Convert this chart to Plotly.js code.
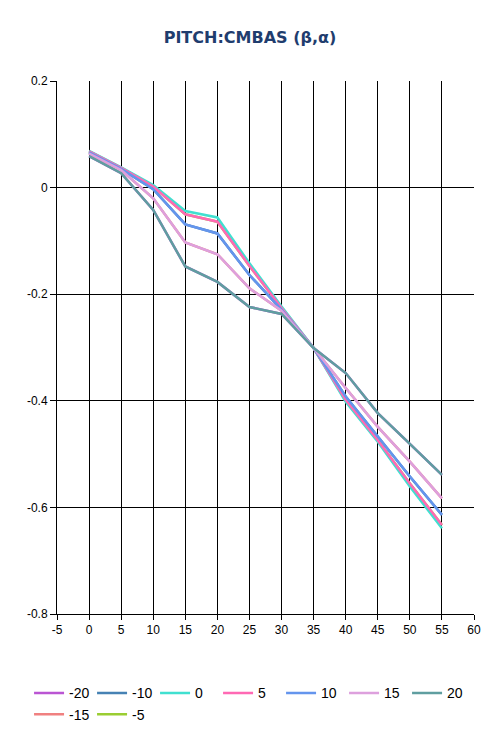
<!DOCTYPE html>
<html>
<head>
<meta charset="utf-8">
<script src="https://cdn.plot.ly/plotly-3.0.1.min.js"></script>
<style>html,body{margin:0;padding:0;background:#fff;}#chart{width:500px;height:750px;}</style>
</head>
<body>
<div id="chart"></div>
<script>
// Angle of attack alpha (deg)
const alpha = [0, 5, 10, 15, 20, 25, 30, 35, 40, 45, 50, 55];

// Sideslip beta series (names)
const betaNames = ["-20", "-15", "-10", "-5", "0", "5", "10", "15", "20"];

// CMBAS values per beta
const cm_m20 = [0.059, 0.027, -0.042, -0.148, -0.177, -0.224, -0.237, -0.301, -0.348, -0.423, -0.481, -0.539];
const cm_m15 = [0.064, 0.033, -0.020, -0.103, -0.125, -0.189, -0.231, -0.301, -0.376, -0.449, -0.514, -0.583];
const cm_m10 = [0.066, 0.035, -0.003, -0.069, -0.086, -0.164, -0.229, -0.301, -0.392, -0.467, -0.542, -0.614];
const cm_m5  = [0.068, 0.037, 0.002, -0.050, -0.064, -0.147, -0.226, -0.301, -0.398, -0.474, -0.555, -0.633];
const cm_0   = [0.069, 0.038, 0.005, -0.044, -0.056, -0.142, -0.223, -0.301, -0.402, -0.477, -0.561, -0.639];
const cm_p5  = [0.068, 0.037, 0.002, -0.050, -0.064, -0.147, -0.226, -0.301, -0.398, -0.474, -0.555, -0.633];
const cm_p10 = [0.066, 0.035, -0.003, -0.069, -0.086, -0.164, -0.229, -0.301, -0.392, -0.467, -0.542, -0.614];
const cm_p15 = [0.064, 0.033, -0.020, -0.103, -0.125, -0.189, -0.231, -0.301, -0.376, -0.449, -0.514, -0.583];
const cm_p20 = [0.059, 0.027, -0.042, -0.148, -0.177, -0.224, -0.237, -0.301, -0.348, -0.423, -0.481, -0.539];

const seriesValues = [cm_m20, cm_m15, cm_m10, cm_m5, cm_0, cm_p5, cm_p10, cm_p15, cm_p20];
const colors = ["#BA55D3", "#F08080", "#4682B4", "#9ACD32", "#40E0D0", "#FF69B4", "#6495ED", "#DDA0DD", "#5F9EA0"];
const legendRanks = [1, 8, 2, 9, 3, 4, 5, 6, 7];

// Tick labels
const xTickVals = [-5, 0, 5, 10, 15, 20, 25, 30, 35, 40, 45, 50, 55, 60];
const xTickText = ["-5", "0", "5", "10", "15", "20", "25", "30", "35", "40", "45", "50", "55", "60"];
const yTickVals = [-0.8, -0.6, -0.4, -0.2, 0, 0.2];
const yTickText = ["-0.8", "-0.6", "-0.4", "-0.2", "0", "0.2"];

const traces = betaNames.map((name, i) => ({
  type: "scatter",
  mode: "lines",
  name: name,
  x: alpha,
  y: seriesValues[i],
  line: {color: colors[i], width: 2.5},
  legendrank: legendRanks[i]
}));

const tickFont = {family: "Liberation Sans, Arial, sans-serif", size: 12, color: "#000"};

const layout = {
  width: 500,
  height: 750,
  paper_bgcolor: "#fff",
  plot_bgcolor: "#fff",
  margin: {l: 57, r: 26, t: 81, b: 136},
  title: {
    text: "<b>PITCH:CMBAS (β,α)</b>",
    font: {family: "DejaVu Sans, Verdana, sans-serif", size: 16, color: "#1F3D6E"},
    x: 0.5, xanchor: "center", xref: "container",
    y: 1 - 37 / 750, yanchor: "middle", yref: "container"
  },
  xaxis: {
    range: [-5, 60],
    tickmode: "array", tickvals: xTickVals, ticktext: xTickText,
    showgrid: true, gridcolor: "#000", gridwidth: 1,
    zeroline: false, showline: true, linecolor: "#000", linewidth: 1,
    ticks: "outside", ticklen: 5, tickcolor: "#000",
    tickfont: tickFont, fixedrange: true
  },
  yaxis: {
    range: [-0.8, 0.2],
    tickmode: "array", tickvals: yTickVals, ticktext: yTickText,
    showgrid: true, gridcolor: "#000", gridwidth: 1,
    zeroline: false, showline: true, linecolor: "#000", linewidth: 1,
    ticks: "outside", ticklen: 6, tickcolor: "#000",
    tickfont: tickFont, fixedrange: true
  },
  showlegend: true,
  legend: {
    orientation: "h",
    x: -0.067, xanchor: "left",
    y: -0.119, yanchor: "top",
    font: {family: "Liberation Sans, Arial, sans-serif", size: 14, color: "#000"},
    entrywidth: 18,
    traceorder: "normal"
  }
};

Plotly.newPlot("chart", traces, layout, {staticPlot: true, displayModeBar: false});
</script>
</body>
</html>
